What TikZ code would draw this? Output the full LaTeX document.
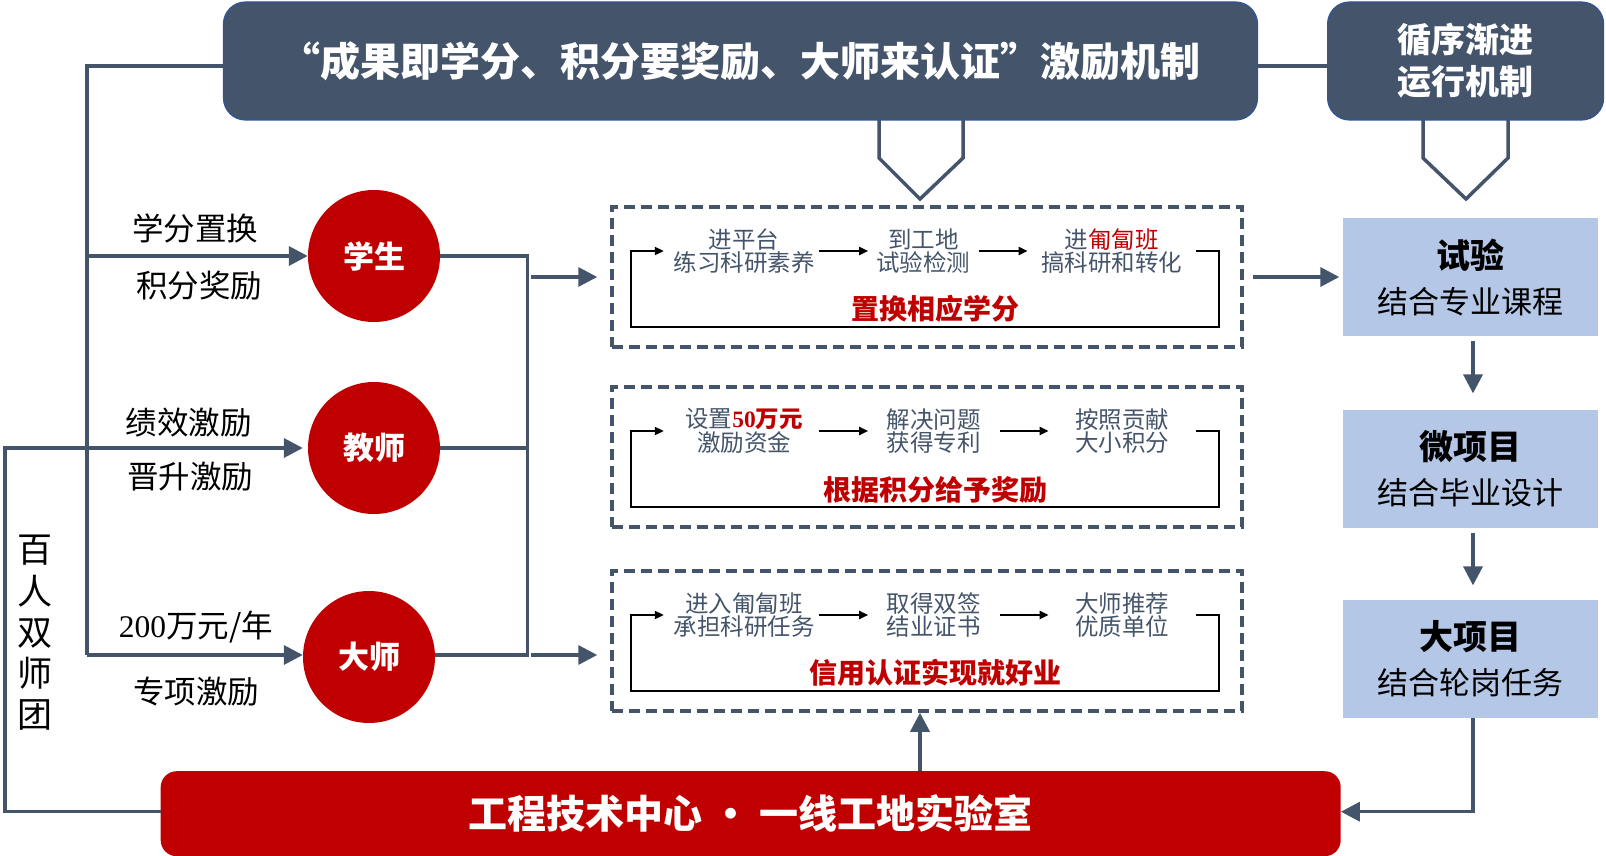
\documentclass[tikz,border=0pt]{standalone}
\usepackage{fontspec}
\setmainfont{Noto Sans CJK SC}
\newfontfamily\serif{Liberation Serif}
\usetikzlibrary{arrows.meta,positioning}

\definecolor{slate}{HTML}{44546A}
\definecolor{deepred}{HTML}{C00000}
\definecolor{paleblue}{HTML}{B4C7E7}
\definecolor{rimblue}{HTML}{2F5597}

\newcommand{\fs}[2]{\fontsize{#1}{#2}\selectfont}

\begin{document}
\begin{tikzpicture}[x=1pt,y=-1pt,>={Triangle[length=19pt,width=19pt]},
    banner/.style={draw=rimblue,line width=1.2pt,fill=slate,rounded corners=22pt,
        text=white,font=\bfseries,minimum height=118pt,inner sep=0pt},
    actor/.style={circle,fill=deepred,minimum size=132pt,inner sep=0pt,
        text=white,font=\fs{31}{36}\bfseries},
    cue/.style={font=\fs{31.5}{34},inner sep=0pt},
    dbox/.style={draw=slate,line width=3.5pt,dash pattern=on 11pt off 6pt,
        minimum width=630pt,minimum height=140pt,inner sep=0pt},
    phase/.style={text=slate,font=\fs{23.5}{23.5},align=center,inner sep=0pt},
    gain/.style={text=deepred,font=\fs{28}{32}\bfseries,inner sep=0pt},
    stage/.style={fill=paleblue,minimum width=255pt,minimum height=118pt,
        align=center,inner sep=0pt,font=\fs{31}{45}},
    floor/.style={fill=deepred,rounded corners=16pt,minimum width=1180pt,
        minimum height=85pt,text=white,font=\fs{39}{44}\bfseries},
    link/.style={draw=slate,line width=3.5pt},
    tick/.style={draw=black,line width=2pt,-{Triangle[length=9pt,width=8pt]}},
    ring/.style={draw=black,line width=2pt}]

  \useasboundingbox (0,0) rectangle (1606,856);

  % top banners
  \node[banner,minimum width=1034pt,font=\fs{40}{44}\bfseries] (title) at (740.5,61)
       {“成果即学分、积分要奖励、大师来认证”激励机制};
  \node[banner,minimum width=276pt,align=center,font=\fs{34}{42}\bfseries] (mech) at (1465.6,61)
       {循序渐进\\运行机制};

  % the three actors and their incentives
  \node[actor] (c_1) at (374,256) {学生};
  \node[actor] (c_2) at (374,448) {教师};
  \node[actor] (c_3) at (369,657) {大师};

  \node[cue] (l_1) at (195,228) {学分置换};
  \node[cue] (l_2) at (199,286) {积分奖励};
  \node[cue] (l_3) at (188.5,423) {绩效激励};
  \node[cue] (l_4) at (190,477) {晋升激励};
  \node[cue] (l_5) at (196,627) {{\serif 200}万元/年};
  \node[cue] (l_6) at (196,692) {专项激励};
  \node[cue,font=\fs{35}{41.3},align=center] (team) at (34.5,633) {百\\人\\双\\师\\团};

  % dashed cycles
  \node[dbox] (box_1) at (927,277) {};
  \node[dbox] (box_2) at (927,457) {};
  \node[dbox] (box_3) at (927,641) {};

  \node[phase,minimum width=150pt] (t_11) at (744,251) {进平台\\练习科研素养};
  \node[phase,minimum width=110pt,right=49pt of t_11] (t_12) {到工地\\试验检测};
  \node[phase,minimum width=168pt,right=49pt of t_12] (t_13) {进{\color{deepred}匍匐班}\\搞科研和转化};
  \node[gain] (g_1) at (935,309) {置换相应学分};

  \node[phase,minimum width=150pt] (t_21) at (744,431)
       {设置{\color{deepred}\bfseries{\serif 50}万元}\\激励资金};
  \node[phase,minimum width=131pt,right=49pt of t_21] (t_22) {解决问题\\获得专利};
  \node[phase,minimum width=147pt,right=49pt of t_22] (t_23) {按照贡献\\大小积分};
  \node[gain] (g_2) at (935,490) {根据积分给予奖励};

  \node[phase,minimum width=150pt] (t_31) at (744,615) {进入匍匐班\\承担科研任务};
  \node[phase,minimum width=131pt,right=49pt of t_31] (t_32) {取得双签\\结业证书};
  \node[phase,minimum width=147pt,right=49pt of t_32] (t_33) {大师推荐\\优质单位};
  \node[gain] (g_3) at (935,673) {信用认证实现就好业};

  % stages on the right
  \node[stage] (st_1) at (1470,277) {{\fs{34}{45}\bfseries 试验}\\结合专业课程};
  \node[stage] (st_2) at (1470,468.6) {{\fs{34}{45}\bfseries 微项目}\\结合毕业设计};
  \node[stage] (st_3) at (1470,658.6) {{\fs{34}{45}\bfseries 大项目}\\结合轮岗任务};

  % bottom platform
  \node[floor] (floor) at (750.7,813.7) {工程技术中心 · 一线工地实验室};

  % chevrons
  \draw[link] (879,119.8) -- (879,158) -- (920,199) -- (963,158) -- (963,119.8);
  \draw[link] (1423,119.8) -- (1423,158) -- (1466,199) -- (1508,158) -- (1508,119.8);

  % connectors
  \coordinate (lt) at (87,655);
  \coordinate (ol) at (5,448);
  \coordinate (rt) at (527.7,655);
  \draw[link] ([yshift=-5pt]title.east) -- ([yshift=-5pt]mech.west);
  \draw[link] ([yshift=-5pt]title.west) -| (lt);
  \draw[link,->] (lt |- c_1) -- (c_1.west);
  \draw[link,->] (lt) -- (lt -| c_3.west);
  \draw[link,->,shorten >=5pt] ([yshift=2pt]floor.west) -| (ol) -- (c_2.west);

  \draw[link] (c_1.east) -- (rt |- c_1) -- (rt) -- (rt -| c_3.east);
  \draw[link] (c_2.east) -- (rt |- c_2);
  \draw[link,->,shorten >=13pt] ([xshift=3pt]rt |- box_1) -- (box_1.west);
  \draw[link,->,shorten >=13pt] ([xshift=3pt]rt) -- (rt -| box_3.west);

  \path (box_1.east) edge[link,->,shorten <=9pt,shorten >=3pt] (st_1.west)
        ([xshift=3pt,yshift=-5pt]st_1.south) edge[link,->] ([xshift=3pt,yshift=16pt]st_2.north)
        ([xshift=3pt,yshift=-5pt]st_2.south) edge[link,->] ([xshift=3pt,yshift=14pt]st_3.north);
  \draw[link,->] ([xshift=3pt]st_3.south) |- ([yshift=2pt]floor.east);
  \draw[link,->] ([xshift=-7pt]box_3.south |- floor.north) -- ([xshift=-7pt]box_3.south);

  % inner cycles
  \draw[tick] (t_11) -- (t_12); \draw[tick] (t_12) -- (t_13);
  \draw[tick] (t_21) -- (t_22); \draw[tick] (t_22) -- (t_23);
  \draw[tick] (t_31) -- (t_32); \draw[tick] (t_32) -- (t_33);
  \draw[ring,-{Triangle[length=9pt,width=8pt]},shorten >=5pt]
        (t_13.east) -| (1218.6,327) -| (630.8,251) -- (t_11.west);
  \draw[ring,-{Triangle[length=9pt,width=8pt]},shorten >=5pt]
        (t_23.east) -| (1218.6,507) -| (630.8,431) -- (t_21.west);
  \draw[ring,-{Triangle[length=9pt,width=8pt]},shorten >=5pt]
        (t_33.east) -| (1218.6,691) -| (630.8,615) -- (t_31.west);

\end{tikzpicture}
\end{document}
